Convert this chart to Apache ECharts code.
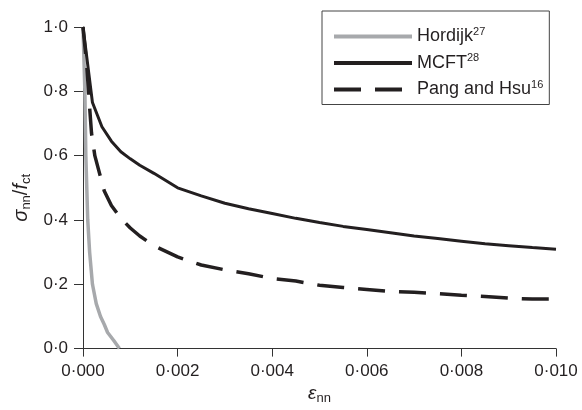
<!DOCTYPE html>
<html>
<head>
<meta charset="UTF-8">
<title>Tension softening curves</title>
<script src="https://cdn.jsdelivr.net/npm/echarts@6/dist/echarts.min.js"></script>
</head>
<body style="margin:0;background:#fff">
<div id="main" style="width:582px;height:410px;"></div>
<script type="text/javascript">
// values: strain (x) and sigma_nn / f_ct (y)
var hordijkStrain = [0, 0.00002, 0.00004, 0.00006, 0.0001, 0.00014, 0.0002, 0.00028, 0.00037, 0.00045, 0.00052, 0.00065, 0.00077];
var hordijkStress = [1.0, 0.9, 0.8, 0.6, 0.4, 0.3, 0.2, 0.14, 0.1, 0.075, 0.05, 0.025, 0.0];

var mcftStrain = [0, 0.0002, 0.0004, 0.0006, 0.0008, 0.001, 0.0012, 0.0015, 0.002, 0.0025, 0.003, 0.0035, 0.004, 0.0045, 0.005, 0.0055, 0.006, 0.0065, 0.007, 0.0075, 0.008, 0.0085, 0.009, 0.0095, 0.010];
var mcftStress = [1.0, 0.765, 0.69, 0.645, 0.612, 0.59, 0.57, 0.545, 0.5, 0.475, 0.452, 0.435, 0.42, 0.405, 0.392, 0.38, 0.37, 0.36, 0.35, 0.342, 0.334, 0.326, 0.32, 0.314, 0.309];

var pangStrain = [0, 0.00008, 0.00013, 0.00018, 0.00025, 0.00035, 0.00045, 0.0006, 0.0008, 0.001, 0.0012, 0.0015, 0.002, 0.0025, 0.003, 0.0035, 0.004, 0.0045, 0.005, 0.0055, 0.006, 0.0065, 0.007, 0.0075, 0.008, 0.0085, 0.009, 0.0095, 0.010];
var pangStress = [1.0, 0.88, 0.77, 0.67, 0.6, 0.545, 0.49, 0.445, 0.405, 0.375, 0.35, 0.32, 0.285, 0.26, 0.245, 0.233, 0.218, 0.21, 0.197, 0.19, 0.184, 0.178, 0.175, 0.171, 0.166, 0.162, 0.157, 0.154, 0.154];

var seriesNames = ['Hordijk', 'MCFT', 'Pang and Hsu'];
var seriesRefs = ['27', '28', '16'];

function pairs(xs, ys) {
    return xs.map(function (x, i) { return [x, ys[i]]; });
}
function dotted(v, digits) {
    return v.toFixed(digits).replace('.', '\u00b7');
}

var font = 'Liberation Sans, Arial, sans-serif';
var ink = '#231f20';
var grey = '#a7a9ac';

var chart = echarts.init(document.getElementById('main'));

var option = {
    animation: false,
    grid: {left: 83, right: 26, top: 27, bottom: 53},
    legend: {
        orient: 'vertical',
        left: 322,
        top: 11,
        padding: [15, 6, 6, 10],
        itemWidth: 78,
        itemHeight: 14,
        itemGap: 7,
        borderColor: '#444',
        borderWidth: 1,
        itemStyle: {opacity: 0},
        data: [
            {name: 'Hordijk', lineStyle: {width: 4}},
            {name: 'MCFT', lineStyle: {width: 4}},
            {name: 'Pang and Hsu', lineStyle: {width: 4}}
        ],
        formatter: function (name) {
            return '{t|' + name + '}{sup|' + seriesRefs[seriesNames.indexOf(name)] + '}';
        },
        textStyle: {
            color: ink,
            fontFamily: font,
            rich: {
                t: {fontSize: 18, fontFamily: font, color: ink},
                sup: {fontSize: 11, fontFamily: font, color: ink, padding: [0, 0, 10, 0]}
            }
        }
    },
    xAxis: {
        type: 'value',
        min: 0,
        max: 0.010,
        interval: 0.002,
        name: '{i|\u03b5}{s|nn}',
        nameLocation: 'middle',
        nameGap: 34,
        nameTextStyle: {
            rich: {
                i: {fontSize: 19, fontStyle: 'italic', fontFamily: font, color: ink},
                s: {fontSize: 13, fontFamily: font, color: ink, padding: [9, 0, 0, 0]}
            }
        },
        splitLine: {show: false},
        axisLine: {lineStyle: {color: '#333', width: 1}},
        axisTick: {length: 8, lineStyle: {color: '#333'}},
        axisLabel: {
            margin: 14,
            fontSize: 17,
            fontFamily: font,
            color: ink,
            formatter: function (v) { return dotted(v, 3); }
        }
    },
    yAxis: {
        type: 'value',
        min: 0,
        max: 1,
        interval: 0.2,
        name: '{i|\u03c3}{s|nn}{n|/}{i|f}{s|ct}',
        nameLocation: 'middle',
        nameRotate: 90,
        nameGap: 46,
        nameTextStyle: {
            padding: [0, 20, 0, 0],
            rich: {
                i: {fontSize: 20, fontStyle: 'italic', fontFamily: font, color: ink},
                n: {fontSize: 20, fontFamily: font, color: ink},
                s: {fontSize: 13, fontFamily: font, color: ink, padding: [9, 0, 0, 0]}
            }
        },
        splitLine: {show: false},
        axisLine: {show: true, lineStyle: {color: '#333', width: 1}},
        axisTick: {show: true, length: 9, lineStyle: {color: '#333'}},
        axisLabel: {
            margin: 15,
            fontSize: 17,
            fontFamily: font,
            color: ink,
            formatter: function (v) { return dotted(v, 1); }
        }
    },
    series: [
        {
            name: 'Hordijk',
            type: 'line',
            symbol: 'none',
            data: pairs(hordijkStrain, hordijkStress),
            itemStyle: {color: grey},
            lineStyle: {color: grey, width: 3.5}
        },
        {
            name: 'MCFT',
            type: 'line',
            symbol: 'none',
            data: pairs(mcftStrain, mcftStress),
            itemStyle: {color: ink},
            lineStyle: {color: ink, width: 3}
        },
        {
            name: 'Pang and Hsu',
            type: 'line',
            symbol: 'none',
            data: pairs(pangStrain, pangStress),
            itemStyle: {color: ink},
            lineStyle: {color: ink, width: 3.5, type: [27, 14]}
        }
    ]
};

chart.setOption(option);
</script>
</body>
</html>
